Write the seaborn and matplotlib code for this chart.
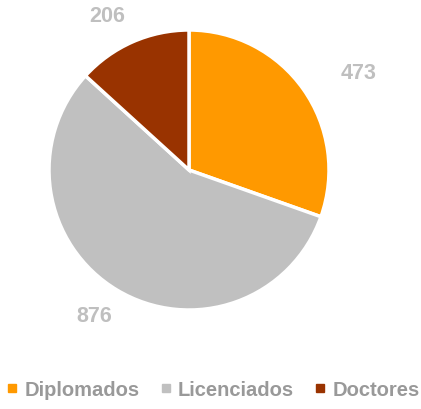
import matplotlib
matplotlib.use("Agg")
import matplotlib.pyplot as plt
from matplotlib.lines import Line2D
import seaborn as sns
import numpy as np

# Data
categories = ["Diplomados", "Licenciados", "Doctores"]
values = [473, 876, 206]
colors = ["#FF9900", "#C0C0C0", "#993300"]

sns.set_theme(style="white")
plt.rcParams["font.family"] = ["Liberation Sans", "DejaVu Sans"]

fig = plt.figure(figsize=(4.21, 4.10), dpi=100)
ax = fig.add_axes([49 / 421, 99 / 410, 280 / 421, 280 / 410])

wedges, texts = ax.pie(values, colors=colors, startangle=90, counterclock=False,
                       labels=[str(v) for v in values], labeldistance=1.3,
                       wedgeprops=dict(edgecolor="white", linewidth=2.5),
                       textprops=dict(color="#BFBFBF", fontsize=15.5, fontweight="bold"))

# nudge value labels to where the reference puts them
label_dist = [1.40, 1.24, 1.25]
label_ang = [30, 236.8, 117.8]
for t, d, a in zip(texts, label_dist, label_ang):
    t.set_position((d * np.cos(np.radians(a)), d * np.sin(np.radians(a))))
    t.set_ha("center")
    t.set_va("center")

ax.set_xlim(-1, 1)
ax.set_ylim(-1, 1)
ax.set_aspect("equal")
ax.axis("off")

handles = [Line2D([0], [0], marker="s", linestyle="none", markersize=6,
                  markerfacecolor=c, markeredgecolor=c) for c in colors]
leg = fig.legend(handles, categories, loc="center", bbox_to_anchor=(212 / 421, 19 / 410),
                 ncol=3, frameon=False, handletextpad=0.2, columnspacing=0.9,
                 handlelength=0.8, prop=dict(size=14.5, weight="bold"))
for t in leg.get_texts():
    t.set_color("#999999")

fig.savefig("out.png", dpi=100)
